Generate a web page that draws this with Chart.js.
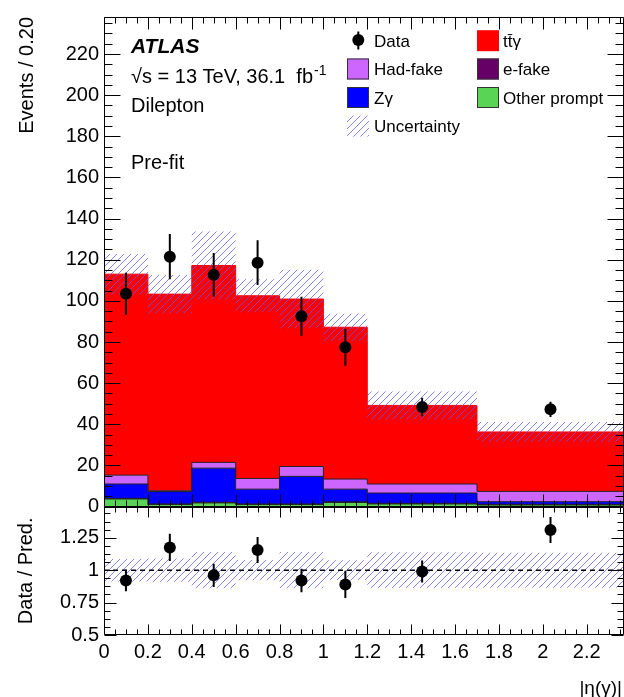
<!DOCTYPE html>
<html>
<head>
<meta charset="utf-8">
<script src="https://cdn.jsdelivr.net/npm/chart.js@4.4.1/dist/chart.umd.min.js"></script>
<style>
  html, body { margin: 0; padding: 0; background: #fff; overflow: hidden; }
  #wrap { width: 630px; height: 697px; }
</style>
</head>
<body>
<div id="wrap"><canvas id="plot"></canvas></div>
<script>
// binning of |eta(gamma)|
const binEdges = [0, 0.2, 0.4, 0.6, 0.8, 1.0, 1.2, 1.7, 2.37];
const binCenters = [0.1, 0.3, 0.5, 0.7, 0.9, 1.1, 1.45, 2.035];

// predicted yields, events / 0.20 (bottom of the stack first)
const otherPrompt = [3.7, 1.0, 1.8, 1.0, 1.0, 2.0, 1.3, 0.8];
const eFake = [0.3, 0.3, 0.3, 0.3, 0.3, 0.3, 0.3, 0.3];
const zGamma = [7.0, 6.0, 16.6, 7.2, 13.4, 6.2, 5.0, 1.3];
const hadFake = [4.3, 0.4, 2.8, 5.2, 4.8, 4.9, 4.4, 5.0];
const ttGamma = [97.7, 95.6, 95.7, 88.8, 81.4, 73.8, 38.2, 28.9];
const predUnc = [9.8, 9.3, 16.5, 8.0, 14.2, 6.6, 6.8, 4.8];

// observed
const dataValues = [103.5, 121.5, 112.7, 118.6, 92.5, 77.5, 48.4, 47.3];
const dataErrors = [10.2, 11.0, 10.6, 10.9, 9.5, 9.0, 4.5, 3.7];

// ratio panel
const ratioValues = [0.92, 1.175, 0.96, 1.155, 0.92, 0.89, 0.99, 1.31];
const ratioErrors = [0.083, 0.105, 0.09, 0.10, 0.09, 0.105, 0.085, 0.10];
const ratioUnc = [0.087, 0.09, 0.14, 0.078, 0.14, 0.076, 0.138, 0.135];

const xTicks = [0, 0.2, 0.4, 0.6, 0.8, 1, 1.2, 1.4, 1.6, 1.8, 2, 2.2];
const xTickLabels = ['0', '0.2', '0.4', '0.6', '0.8', '1', '1.2', '1.4', '1.6', '1.8', '2', '2.2'];
const yTicks = [0, 20, 40, 60, 80, 100, 120, 140, 160, 180, 200, 220];
const ratioTicks = [0.5, 0.75, 1, 1.25];
const ratioTickLabels = ['0.5', '0.75', '1', '1.25'];

const FONT = '"Liberation Sans", Arial, Helvetica, sans-serif';

// histogram as stepped line: one point per left edge, last value repeated at the right edge
function steps(values) {
    return binEdges.map((x, i) => ({ x: x, y: values[Math.min(i, values.length - 1)] }));
}

function errorSegments(ys, es) {
    const pts = [];
    binCenters.forEach((x, i) => {
        pts.push({ x: x, y: ys[i] - es[i] }, { x: x, y: ys[i] + es[i] }, { x: x, y: null });
    });
    return pts;
}

const totals = ttGamma.map((v, i) => v + hadFake[i] + zGamma[i] + eFake[i] + otherPrompt[i]);
const bandLo = totals.map((v, i) => v - predUnc[i]);
const bandHi = totals.map((v, i) => v + predUnc[i]);
const ratioLo = ratioUnc.map(u => 1 - u);
const ratioHi = ratioUnc.map(u => 1 + u);

// hatch pattern for the uncertainty band
const hatchCanvas = document.createElement('canvas');
hatchCanvas.width = 7;
hatchCanvas.height = 7;
const hctx = hatchCanvas.getContext('2d');
hctx.strokeStyle = 'rgba(90, 90, 255, 0.75)';
hctx.lineWidth = 1;
hctx.beginPath();
hctx.moveTo(-1, 8); hctx.lineTo(8, -1);
hctx.moveTo(-1, 1); hctx.lineTo(1, -1);
hctx.moveTo(6, 8); hctx.lineTo(8, 6);
hctx.stroke();
const hatch = hctx.createPattern(hatchCanvas, 'repeat');

function stackLayer(label, values, color, border, fill) {
    return {
        type: 'line', label: label, data: steps(values), yAxisID: 'y', stack: 'mc',
        stepped: true, fill: fill, backgroundColor: color, borderColor: border,
        borderWidth: 1, pointRadius: 0, order: 2
    };
}

const atlasFrame = {
    id: 'atlasFrame',
    afterDraw(chart) {
        const { ctx, chartArea: area, scales } = chart;
        const x = scales.x;
        ctx.save();
        ctx.strokeStyle = '#000';
        ctx.lineWidth = 1;

        const panels = [
            { scale: scales.y, yStep: 5, yEvery: 4, yMaj: 16, yMin: 8, xMaj: 12, xMin: 6 },
            { scale: scales.yr, yStep: 0.0625, yEvery: 4, yMaj: 12, yMin: 6, xMaj: 10, xMin: 5 }
        ];
        panels.forEach(p => {
            const s = p.scale;
            const top = Math.round(s.top) + 0.5;
            const bottom = Math.round(s.bottom) - 0.5;
            const left = Math.round(area.left) + 0.5;
            const right = Math.round(area.right) - 0.5;
            ctx.beginPath();
            ctx.rect(left, top, right - left, bottom - top);
            // x ticks, inward, top and bottom
            for (let i = 0; i * 0.05 <= x.max + 1e-9; i++) {
                const px = Math.round(x.getPixelForValue(i * 0.05)) + 0.5;
                const len = i % 4 === 0 ? p.xMaj : p.xMin;
                ctx.moveTo(px, top); ctx.lineTo(px, top + len);
                ctx.moveTo(px, bottom); ctx.lineTo(px, bottom - len);
            }
            // y ticks, inward, left and right
            for (let i = 0; s.min + i * p.yStep <= s.max + 1e-9; i++) {
                const py = Math.round(s.getPixelForValue(s.min + i * p.yStep)) + 0.5;
                const len = i % p.yEvery === 0 ? p.yMaj : p.yMin;
                ctx.moveTo(left, py); ctx.lineTo(left + len, py);
                ctx.moveTo(right, py); ctx.lineTo(right - len, py);
            }
            ctx.stroke();
        });

        // labels in the top-left corner
        ctx.fillStyle = '#000';
        ctx.textAlign = 'left';
        ctx.textBaseline = 'alphabetic';
        ctx.font = 'italic bold 21px ' + FONT;
        ctx.fillText('ATLAS', 131, 53);
        ctx.font = '20px ' + FONT;
        const lumi = '\u221As = 13 TeV, 36.1  fb';
        ctx.fillText(lumi, 131, 82.5);
        const w = ctx.measureText(lumi).width;
        ctx.font = '14px ' + FONT;
        ctx.fillText('-1', 131 + w + 1, 75);
        ctx.font = '20px ' + FONT;
        ctx.fillText('Dilepton', 131, 111.5);
        ctx.fillText('Pre-fit', 131, 169);

        // legend
        const rows = [46.7, 75, 103.5, 132];
        function box(bx, row, fill, border) {
            const by = rows[row] - 16.5;
            ctx.fillStyle = fill;
            ctx.fillRect(bx, by, 22, 21);
            if (border) {
                ctx.strokeStyle = border;
                ctx.strokeRect(bx + 0.5, by + 0.5, 21, 20);
            }
        }
        ctx.fillStyle = '#000';
        ctx.beginPath();
        ctx.arc(358.3, 40, 6, 0, Math.PI * 2);
        ctx.fill();
        ctx.lineWidth = 2;
        ctx.strokeStyle = '#000';
        ctx.beginPath();
        ctx.moveTo(358.3, 31.5); ctx.lineTo(358.3, 49.5);
        ctx.stroke();
        ctx.lineWidth = 1;
        box(347, 1, '#cc66ff', '#333');
        box(347, 2, '#0000ff', '#333');
        box(347, 3, hatch, null);
        box(477, 0, '#ff0000', null);
        box(477, 1, '#660066', '#333');
        box(477, 2, '#59d454', '#333');

        ctx.fillStyle = '#000';
        ctx.font = '17px ' + FONT;
        ctx.fillText('Data', 374, rows[0]);
        ctx.fillText('Had-fake', 374, rows[1]);
        ctx.fillText('Z\u03b3', 374, rows[2]);
        ctx.fillText('Uncertainty', 374, rows[3]);
        ctx.fillText('tt\u0304\u03b3', 503, rows[0]);
        ctx.fillText('e-fake', 503, rows[1]);
        ctx.fillText('Other prompt', 503, rows[2]);

        // x axis title
        ctx.font = '19px ' + FONT;
        ctx.textAlign = 'right';
        ctx.fillText('|\u03b7(\u03b3)|', 622, 694);
        ctx.restore();
    }
};

new Chart(document.getElementById('plot'), {
    type: 'line',
    data: {
        datasets: [
            stackLayer('Other prompt', otherPrompt, '#59d454', '#222', 'origin'),
            stackLayer('e-fake', eFake, '#660066', '#222', '-1'),
            stackLayer('Z\u03b3', zGamma, '#0000ff', '#222', '-1'),
            stackLayer('Had-fake', hadFake, '#cc66ff', '#222', '-1'),
            stackLayer('tt\u0304\u03b3', ttGamma, '#ff0000', '#ff0000', '-1'),
            {
                type: 'line', label: 'band lo', data: steps(bandLo), yAxisID: 'y', stack: 'lo',
                stepped: true, fill: false, borderWidth: 0, pointRadius: 0, order: 1
            },
            {
                type: 'line', label: 'Uncertainty', data: steps(bandHi), yAxisID: 'y', stack: 'hi',
                stepped: true, fill: '-1', backgroundColor: hatch, borderWidth: 0, pointRadius: 0, order: 1
            },
            {
                type: 'line', label: 'data err', data: errorSegments(dataValues, dataErrors), yAxisID: 'y', stack: 'err',
                borderColor: '#000', borderWidth: 2, pointRadius: 0, fill: false, order: 0
            },
            {
                type: 'line', label: 'Data', data: binCenters.map((x, i) => ({ x: x, y: dataValues[i] })), yAxisID: 'y', stack: 'data',
                showLine: false, pointRadius: 6, pointBackgroundColor: '#000', pointBorderWidth: 0, order: 0
            },
            {
                type: 'line', label: 'ratio lo', data: steps(ratioLo), yAxisID: 'yr',
                stepped: true, fill: false, borderWidth: 0, pointRadius: 0, order: 1
            },
            {
                type: 'line', label: 'ratio band', data: steps(ratioHi), yAxisID: 'yr',
                stepped: true, fill: '-1', backgroundColor: hatch, borderWidth: 0, pointRadius: 0, order: 1
            },
            {
                type: 'line', label: 'unity', yAxisID: 'yr',
                data: [{ x: binEdges[0], y: 1 }, { x: binEdges[binEdges.length - 1], y: 1 }],
                borderColor: '#000', borderWidth: 1.5, borderDash: [5, 4], pointRadius: 0, fill: false, order: 0.5
            },
            {
                type: 'line', label: 'ratio err', data: errorSegments(ratioValues, ratioErrors), yAxisID: 'yr',
                borderColor: '#000', borderWidth: 2, pointRadius: 0, fill: false, order: 0
            },
            {
                type: 'line', label: 'ratio', data: binCenters.map((x, i) => ({ x: x, y: ratioValues[i] })), yAxisID: 'yr',
                showLine: false, pointRadius: 6, pointBackgroundColor: '#000', pointBorderWidth: 0, order: 0
            }
        ]
    },
    options: {
        responsive: true,
        maintainAspectRatio: false,
        animation: false,
        events: [],
        layout: { padding: { top: 14, right: 2, left: 0, bottom: 0 } },
        plugins: {
            legend: { display: false },
            tooltip: { enabled: false }
        },
        scales: {
            x: {
                type: 'linear',
                min: binEdges[0],
                max: binEdges[binEdges.length - 1],
                afterBuildTicks: s => { s.ticks = xTicks.map(v => ({ value: v })); },
                afterFit: s => { s.height = 62; },
                grid: { display: false, drawTicks: false },
                border: { display: false },
                ticks: {
                    autoSkip: false, maxRotation: 0, padding: 5, color: '#000',
                    font: { family: FONT, size: 20 },
                    callback: (v, i) => xTickLabels[i]
                }
            },
            y: {
                type: 'linear',
                stacked: true,
                stack: 'panels',
                stackWeight: 492,
                weight: 2,
                min: 0,
                max: 238,
                afterBuildTicks: s => { s.ticks = yTicks.map(v => ({ value: v })); },
                afterFit: s => { s.width = 104; },
                grid: { display: false, drawTicks: false },
                border: { display: false },
                ticks: { autoSkip: false, padding: 5, color: '#000', font: { family: FONT, size: 20 } },
                title: {
                    display: true, text: 'Events / 0.20', align: 'end', color: '#000',
                    font: { family: FONT, size: 20 }, padding: { top: 15, bottom: 0 }
                }
            },
            yr: {
                type: 'linear',
                position: 'left',
                stack: 'panels',
                stackWeight: 129,
                weight: 1,
                min: 0.5,
                max: 1.49,
                afterBuildTicks: s => { s.ticks = ratioTicks.map(v => ({ value: v })); },
                afterFit: s => { s.width = 104; },
                grid: { display: false, drawTicks: false },
                border: { display: false },
                ticks: {
                    autoSkip: false, padding: 5, color: '#000', font: { family: FONT, size: 20 },
                    callback: (v, i) => ratioTickLabels[i]
                },
                title: {
                    display: true, text: 'Data / Pred.', align: 'center', color: '#000',
                    font: { family: FONT, size: 20 }, padding: { top: 14, bottom: 0 }
                }
            }
        }
    },
    plugins: [atlasFrame]
});
</script>
</body>
</html>
